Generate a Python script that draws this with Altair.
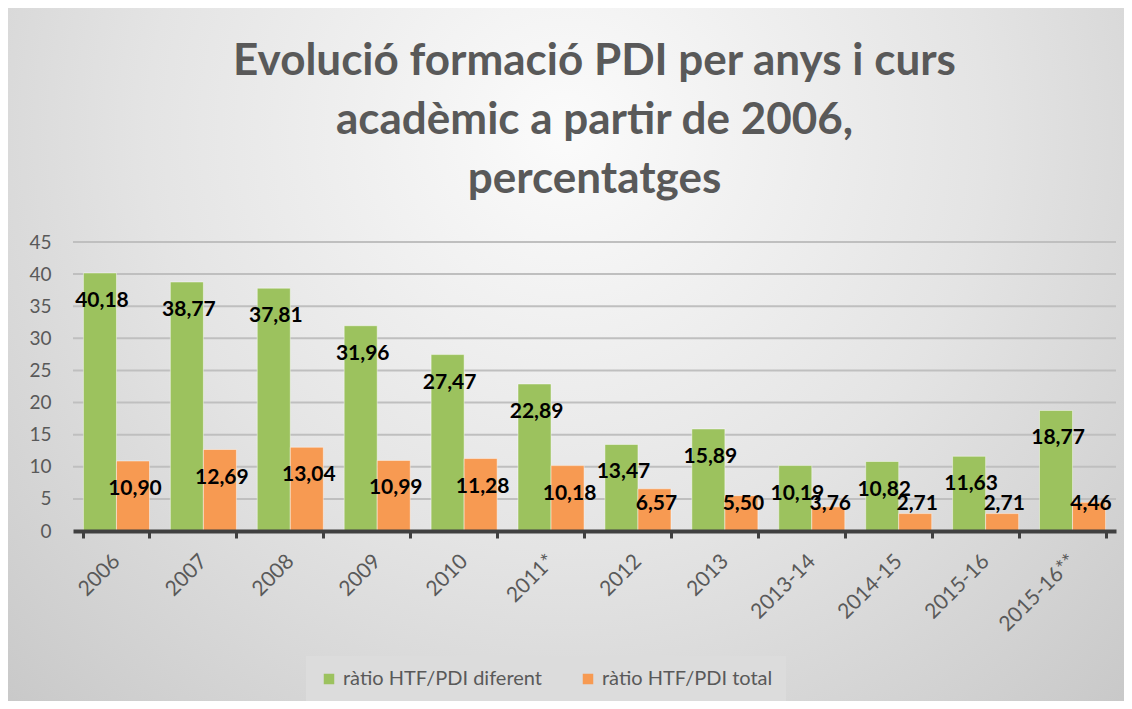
import altair as alt
import pandas as pd

categories = ["2006", "2007", "2008", "2009", "2010", "2011*", "2012", "2013",
              "2013-14", "2014-15", "2015-16", "2015-16**"]
diferent = [40.18, 38.77, 37.81, 31.96, 27.47, 22.89, 13.47, 15.89, 10.19, 10.82, 11.63, 18.77]
total = [10.90, 12.69, 13.04, 10.99, 11.28, 10.18, 6.57, 5.50, 3.76, 2.71, 2.71, 4.46]
series = ["ràtio HTF/PDI diferent", "ràtio HTF/PDI total"]
colors = ["#9cc25e", "#f79a52"]
y_ticks = [0, 5, 10, 15, 20, 25, 30, 35, 40, 45]
title_lines = ["Evolució formació PDI per anys i curs",
               "acadèmic a partir de 2006,",
               "percentatges"]

rows = []
for c, a, b in zip(categories, diferent, total):
    rows.append({"cat": c, "serie": series[0], "value": a})
    rows.append({"cat": c, "serie": series[1], "value": b})
df = pd.DataFrame(rows)
df["label"] = df["value"].map(lambda v: f"{v:.2f}".replace(".", ","))
grid_df = pd.DataFrame({"tick": y_ticks[1:]})

W, H = 1043, 289
PL, PT, PR, PB = 65, 234, 8, 170
FONT = "Lato"

yscale = alt.Scale(domain=[0, 45], nice=False)
yaxis = alt.Axis(title=None, values=y_ticks, labelFontSize=19,
                 labelFont=FONT, labelColor="#595959", labelPadding=22,
                 labelOverlap=False, domain=False, ticks=False, grid=False,
                 zindex=1)

bg = alt.Chart(alt.Data(values=[{}])).mark_rect(
    fill=alt.Gradient(
        gradient="radial",
        x1=0.5, y1=0.3, r1=0.0, x2=0.5, y2=0.3, r2=0.75,
        stops=[alt.GradientStop(color="#fbfbfb", offset=0),
               alt.GradientStop(color="#e4e4e4", offset=0.5),
               alt.GradientStop(color="#c6c6c6", offset=1)],
    ),
    clip=False,
).encode(
    x=alt.value(-PL), x2=alt.value(W + PR),
    y=alt.value(-PT), y2=alt.value(H + PB),
)

grid = alt.Chart(grid_df).mark_rule(color="#bfbfbf", strokeWidth=2).encode(
    y=alt.Y("tick:Q", scale=yscale, axis=yaxis)
)

base = alt.Chart(df).encode(
    x=alt.X("cat:N", sort=categories,
            scale=alt.Scale(paddingInner=0.24, paddingOuter=0.12),
            axis=alt.Axis(title=None, labelAngle=-45, labelAlign="right",
                          labelBaseline="middle", labelFontSize=21,
                          labelFont=FONT, labelColor="#595959", labelPadding=20,
                          domainColor="#404040", domainWidth=4,
                          tickBand="extent", tickColor="#404040", tickWidth=3,
                          tickSize=7, grid=False, zindex=1)),
    xOffset=alt.XOffset("serie:N", sort=series),
)

bars = base.mark_bar(stroke="#ffffff", strokeOpacity=0.45, strokeWidth=1).encode(
    y=alt.Y("value:Q", scale=yscale, axis=yaxis),
    color=alt.Color("serie:N", sort=series,
                    scale=alt.Scale(domain=series, range=colors),
                    legend=alt.Legend(title=None, orient="none",
                                      legendX=233, legendY=414,
                                      direction="horizontal",
                                      symbolType="square", symbolSize=110,
                                      symbolStrokeWidth=0,
                                      labelFontSize=20, labelFont=FONT,
                                      labelColor="#595959", labelLimit=400,
                                      columnPadding=35, padding=13,
                                      fillColor="#dcdcdc")),
)

labels = base.transform_calculate(
    ly="max(datum.value - 4.36, 4.2)"
).mark_text(fontSize=21, font=FONT, fontWeight="bold", color="#000000",
            baseline="middle", align="center", dx=2).encode(
    y=alt.Y("ly:Q", scale=yscale, axis=yaxis),
    text="label:N",
)

chart = alt.layer(bg, grid, bars, labels).properties(
    width=W, height=H,
    title=alt.TitleParams(text=title_lines, anchor="middle", fontSize=44,
                          font=FONT, fontWeight="bold", color="#595959",
                          lineHeight=59, offset=-194, frame="group"),
    autosize=alt.AutoSizeParams(type="none"),
    padding={"left": PL, "top": PT, "right": PR, "bottom": PB},
).configure_view(stroke=None).configure(background="#ffffff")

chart.save("out.html", embed_options={"renderer": "svg", "actions": False})
